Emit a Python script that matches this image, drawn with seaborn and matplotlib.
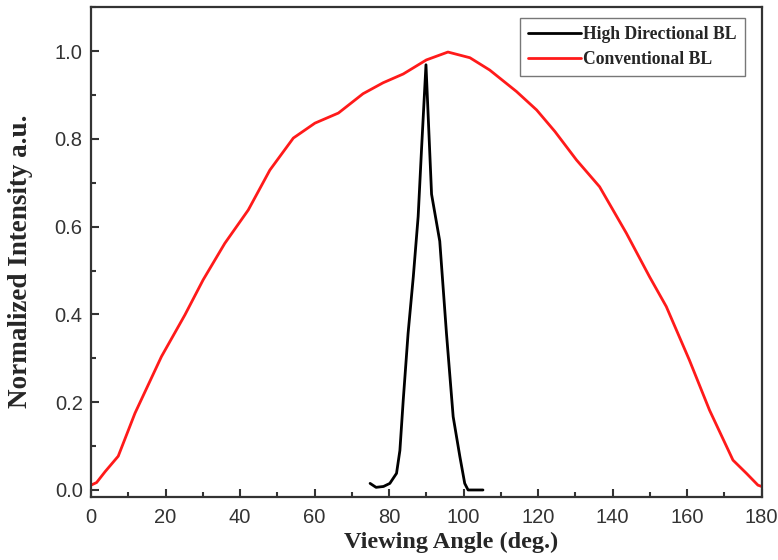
import numpy as np
import pandas as pd
import matplotlib
matplotlib.use("Agg")
import matplotlib.pyplot as plt
import seaborn as sns
from matplotlib.ticker import MultipleLocator

# --- data ---
conv_angle = [0, 1.5, 3.8, 7.3, 11.8, 18.9, 25.2, 30.1, 35.9, 42.2, 48.0, 54.3,
              60.1, 66.4, 73.0, 78.4, 83.8, 90.0, 95.8, 101.7, 107.0, 114.2,
              119.6, 124.5, 130.3, 136.5, 143.7, 149.9, 154.4, 160.6, 166.0,
              172.3, 175.9, 179.0, 180]
conv_int = [0.011, 0.017, 0.042, 0.077, 0.175, 0.304, 0.399, 0.479, 0.562, 0.638,
            0.729, 0.802, 0.836, 0.859, 0.903, 0.928, 0.948, 0.980, 0.998, 0.985,
            0.957, 0.908, 0.866, 0.817, 0.752, 0.691, 0.585, 0.486, 0.418, 0.296,
            0.182, 0.068, 0.038, 0.011, 0.008]

hd_angle = [74.9, 76.5, 78.5, 80.2, 82.0, 82.9, 83.8, 85.1, 86.5, 87.8, 88.7,
            89.9, 91.4, 93.6, 95.4, 97.2, 99.0, 100.3, 101.2, 105.2]
hd_int = [0.015, 0.006, 0.008, 0.015, 0.038, 0.09, 0.205, 0.357, 0.486, 0.623,
          0.775, 0.969, 0.674, 0.567, 0.357, 0.167, 0.076, 0.015, 0.0, 0.0]

df = pd.concat([
    pd.DataFrame({"angle": hd_angle, "intensity": hd_int, "series": "High Directional BL"}),
    pd.DataFrame({"angle": conv_angle, "intensity": conv_int, "series": "Conventional BL"}),
])

sns.set_style("ticks")
fig = plt.figure(figsize=(7.78, 5.6), dpi=100)
ax = fig.add_axes([0.117, 0.1125, 0.862, 0.8745])

sns.lineplot(data=df, x="angle", y="intensity", hue="series", sort=False,
             palette={"High Directional BL": "black", "Conventional BL": "#ff1a1a"},
             linewidth=2, ax=ax, estimator=None)

ax.set_xlim(0, 180)
ax.set_ylim(-0.016, 1.1)
ax.xaxis.set_major_locator(MultipleLocator(20))
ax.xaxis.set_minor_locator(MultipleLocator(10))
ax.yaxis.set_minor_locator(MultipleLocator(0.1))
ax.set_yticks([0, 0.2, 0.4, 0.6, 0.8, 1.0])
ax.set_yticklabels(["0.0", "0.2", "0.4", "0.6", "0.8", "1.0"])

ax.tick_params(which="major", direction="in", length=6, width=1.5,
               labelsize=14.5, labelcolor="#333333", color="#333333")
ax.tick_params(axis="x", which="major", pad=8)
ax.tick_params(axis="y", which="major", pad=6)
ax.tick_params(which="minor", direction="in", length=3.5, width=1.5, color="#333333")
for tl in ax.get_xticklabels() + ax.get_yticklabels():
    tl.set_fontfamily("Liberation Sans")
for s in ax.spines.values():
    s.set_linewidth(1.6)
    s.set_color("#333333")

ax.set_xlabel("Viewing Angle (deg.)", fontfamily="Liberation Serif",
              fontweight="bold", fontsize=17.5)
ax.set_ylabel("Normalized Intensity a.u.", fontfamily="Liberation Serif",
              fontweight="bold", fontsize=19.5)
ax.xaxis.set_label_coords(0.537, -0.072)
ax.yaxis.set_label_coords(-0.087, 0.482)

leg = ax.legend(loc="upper right", bbox_to_anchor=(0.975, 0.978), frameon=True,
                fancybox=False, edgecolor="#555555", handlelength=3.0,
                handletextpad=0.15, borderpad=0.45, labelspacing=0.45,
                borderaxespad=0,
                prop={"family": "Liberation Serif", "weight": "bold", "size": 12.7})
leg.get_frame().set_linewidth(1.0)

fig.savefig("out.png", dpi=100)
